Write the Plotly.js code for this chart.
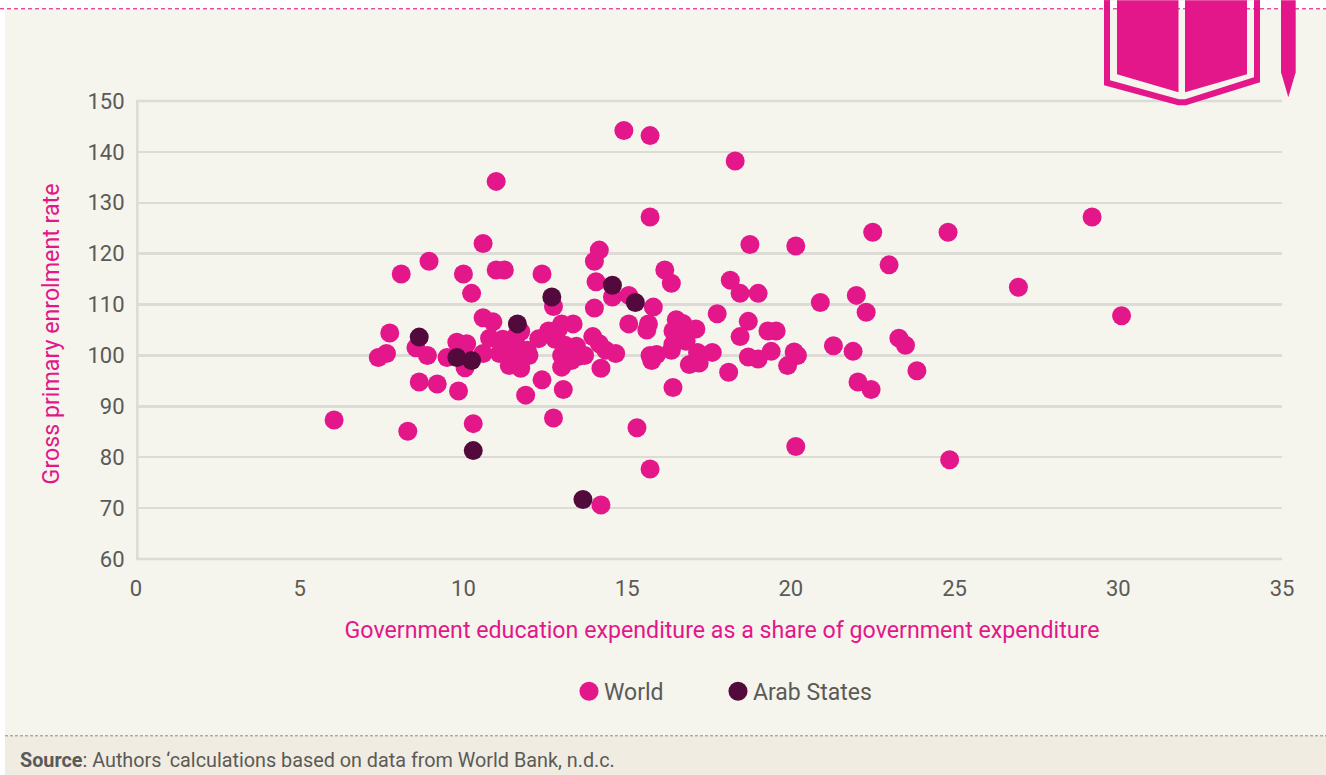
<!DOCTYPE html>
<html><head><meta charset="utf-8">
<script src="https://cdn.plot.ly/plotly-3.0.1.min.js"></script>
<style>html,body{margin:0;padding:0;background:#fff;overflow:hidden}#c{width:1326px;height:775px}</style>
</head><body><div id="c"></div>
<script>
var worldX=[14.9,15.7,18.3,11,15.7,29.2,24.8,22.5,10.6,14.15,18.75,20.15,8.95,14,23,8.1,10,11,11.25,12.4,16.15,14.05,16.35,18.15,26.95,10.25,18.45,19,22,14.55,15.05,20.9,12.75,14,15.8,22.3,17.75,30.1,10.6,10.9,13,13.35,15.05,15.65,16.5,16.7,18.7,15.6,16.4,16.9,17.1,19.3,19.55,12.6,12.9,7.75,11.6,13.95,18.45,23.3,10.8,11.2,12.3,12.8,16.5,16.8,9.8,10.1,14.15,16.4,23.5,21.3,8.55,13.2,13.45,14.35,16.35,21.9,19.4,20.1,17.15,17.6,7.65,8.9,10.6,11.1,11.7,12,13,13.5,13.7,14.65,15.7,15.9,18.7,19,20.2,7.4,9.5,11.4,13.3,15.75,16.9,17.2,19.9,10.05,11.4,11.75,13,14.2,18.1,23.85,12.4,8.65,9.2,22.05,13.05,9.85,16.4,22.45,11.9,6.05,12.75,10.3,15.3,8.3,20.15,24.85,15.7,14.2,11.15,11.6,11.3,11.95,11.75,13.1];
var worldY=[144.2,143.2,138.2,134.2,127.2,127.2,124.2,124.2,122,120.7,121.8,121.5,118.5,118.5,117.8,116,116,116.8,116.8,116,116.8,114.5,114.2,114.8,113.4,112.2,112.2,112.2,111.8,111.5,111.8,110.4,109.6,109.3,109.5,108.5,108.2,107.8,107.4,106.6,106.2,106.2,106.2,106.2,107,106.3,106.7,105,104.8,105,105.2,104.8,104.8,104.8,105.2,104.4,103.8,103.7,103.7,103.4,103.4,103.2,103.3,103.2,103,102.8,102.6,102.3,102.3,102.2,102,101.9,101.5,101.5,101.8,101,101,100.8,100.8,100.7,100.6,100.6,100.4,100,100.4,100.4,100.5,100,100,99.8,100,100.4,100,100.2,99.7,99.3,100,99.6,99.6,99.5,99,99,98.2,98.5,98,97.6,98,97.5,97.7,97.5,96.7,97,95.2,94.8,94.4,94.8,93.3,93,93.7,93.3,92.2,87.3,87.7,86.6,85.8,85.1,82.1,79.5,77.7,70.6,102.8,102.3,101,101,104.7,102];
var arabX=[14.55,12.7,15.25,11.65,8.65,9.8,10.25,10.3,13.65];
var arabY=[113.8,111.5,110.4,106.2,103.6,99.6,99,81.3,71.7];
var xTicks=[0,5,10,15,20,25,30,35];
var yTicks=[60,70,80,90,100,110,120,130,140,150];
var W=1326,H=775,L=136,R=1282,T=100.7,B=558.7;
function px(x){return (x-L)/(R-L);} function py(y){return (B-y)/(B-T);}
function poly(pts,fill){return {type:'path',xref:'paper',yref:'paper',layer:'above',line:{width:0},fillcolor:fill,
 path:'M'+pts.map(function(p){return px(p[0])+','+py(p[1]);}).join('L')+'Z'};}
function rect(x0,y0,x1,y1,fill,layer){return {type:'rect',xref:'paper',yref:'paper',layer:layer||'below',line:{width:0},fillcolor:fill,x0:px(x0),x1:px(x1),y0:py(y0),y1:py(y1)};}
function hline(y,x0,x1,c,w,d,layer){return {type:'line',xref:'paper',yref:'paper',layer:layer||'below',x0:px(x0),x1:px(x1),y0:py(y),y1:py(y),line:{color:c,width:w,dash:d}};}
var pink='#e3178a',dark='#520a3c',panel='#f5f4ed',foot='#f0ece1',grid='#dcdbd6',txt='#5a5a58',font='Roboto,sans-serif';
var shapes=[
 rect(5,8.5,W,735.5,panel),rect(5,735.5,W,H,foot),
 hline(B,136.3,R,grid,2.5),hline(T,136.3,R,grid,2.5),
 {type:'line',xref:'paper',yref:'paper',layer:'below',x0:px(137.3),x1:px(137.3),y0:py(T-1),y1:py(B+1),line:{color:grid,width:2.5}},
 hline(735.5,5,W,'#8a8a8a',1,'3px,2px'),
 poly([[1104,0],[1104,85],[1178,105],[1186,105],[1260,82],[1260,0]],pink),
 poly([[1110,0],[1110,80],[1179,99],[1185,99],[1254,77],[1254,0]],panel),
 rect(1110,0,1254,8.5,'#fff','above'),
 hline(8.5,0,W,'#e0007f',1,'4px,3px','above'),
 poly([[1117,0],[1117,74],[1178.5,92],[1178.5,0]],pink),
 poly([[1185,0],[1185,92],[1247,74],[1247,0]],pink),
 poly([[1104,0],[1104,9],[1110,9],[1110,0]],pink),
 poly([[1254,0],[1254,9],[1260,9],[1260,0]],pink),
 poly([[1281,0],[1281,72],[1288.3,97],[1295.7,72],[1295.7,0]],pink)
];
var data=[
 {type:'scatter',mode:'markers',name:'World',x:worldX,y:worldY,marker:{color:pink,size:19,line:{width:0}}},
 {type:'scatter',mode:'markers',name:'Arab States',x:arabX,y:arabY,marker:{color:dark,size:19,line:{width:0}}}
];
var layout={width:W,height:H,paper_bgcolor:'#fff',plot_bgcolor:'rgba(0,0,0,0)',margin:{l:L,r:W-R,t:T,b:H-B,pad:0},showlegend:true,
 font:{family:font,color:txt,size:22},shapes:shapes,
 xaxis:{range:[0,35],tickvals:xTicks,ticktext:xTicks.map(String),showgrid:false,zeroline:false,showline:false,ticks:'outside',ticklen:10,tickcolor:'rgba(0,0,0,0)',tickfont:{size:22,color:txt},
  title:{text:'Government education expenditure as a share of government expenditure',font:{size:23.2,color:pink},standoff:21}},
 yaxis:{range:[60,150],tickvals:yTicks,ticktext:yTicks.map(String),showgrid:true,gridcolor:grid,gridwidth:2.5,zeroline:false,showline:false,ticks:'outside',ticklen:6,tickcolor:'rgba(0,0,0,0)',tickfont:{size:22,color:txt},
  title:{text:'Gross primary enrolment rate',font:{size:23.2,color:pink},standoff:22}},
 legend:{orientation:'h',x:px(569),xanchor:'left',y:py(691),yanchor:'middle',bgcolor:'rgba(0,0,0,0)',font:{size:23,color:txt},itemwidth:30,itemsizing:'constant',entrywidth:104,entrywidthmode:'pixels',traceorder:'normal'},
 annotations:[{xref:'paper',yref:'paper',x:px(17.5),y:py(760),xanchor:'left',yanchor:'middle',showarrow:false,align:'left',
  text:'<b>Source</b>: Authors ‘calculations based on data from World Bank, n.d.c.',font:{size:19.8,color:txt}}]
};
Plotly.newPlot('c',data,layout,{displayModeBar:false,staticPlot:true}).then(function(gd){
 var t=gd.querySelector('.xtitle'); if(t){t.setAttribute('x',722);}
 var yt=gd.querySelector('.ytitle'); if(yt){yt.setAttribute('transform','translate(1,4) '+(yt.getAttribute('transform')||''));}
 gd.querySelectorAll('.legend .legendpoints path').forEach(function(p){
  var s=19/p.getBBox().width; p.setAttribute('transform',(p.getAttribute('transform')||'')+' scale('+s+')');
 });
 gd.querySelectorAll('.legend text.legendtext').forEach(function(x){x.setAttribute('x',parseFloat(x.getAttribute('x'))-5);});
 gd.querySelectorAll('.legend [clip-path]').forEach(function(e){e.removeAttribute('clip-path');});
});
</script></body></html>
